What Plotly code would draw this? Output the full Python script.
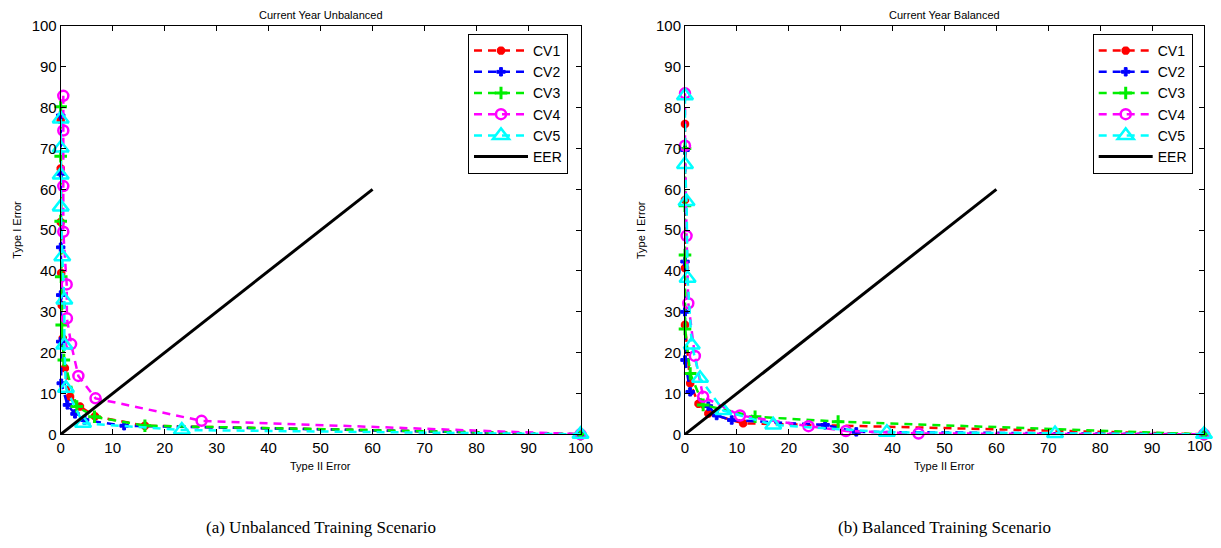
import plotly.graph_objects as go

# ---------------- data ----------------
series_names = ["CV1", "CV2", "CV3", "CV4", "CV5"]

# (a) Unbalanced
unb_cv1_x = [0, 0, 0, 0.1, 0.2, 0.4, 0.8, 1.8, 3.7, 6.6, 16.2, 100]
unb_cv1_y = [77, 65.1, 52, 39.5, 31.6, 23.5, 16.2, 9.2, 6.8, 4.4, 2.1, 0]
unb_cv2_x = [0, 0, 0, 0, 0, 0.1, 1.3, 2.75, 4.6, 12.2, 100]
unb_cv2_y = [78.1, 63.8, 45.8, 34.1, 22.7, 12.5, 7.2, 5.0, 3.5, 2.1, 0]
unb_cv3_x = [0, 0, 0, 0.1, 0.2, 0.6, 3.1, 6.5, 16.2, 100]
unb_cv3_y = [80.2, 68.1, 52.2, 38.6, 26.8, 18.2, 6.8, 4.3, 2.1, 0]
unb_cv4_x = [0.5, 0.5, 0.5, 0.5, 1.15, 1.2, 2.0, 3.4, 6.7, 27.1, 100]
unb_cv4_y = [82.9, 74.4, 60.8, 49.6, 36.7, 28.4, 22.1, 14.3, 8.8, 3.3, 0]
unb_cv5_x = [0, 0, 0, 0, 0.3, 0.7, 0.7, 1.0, 4.3, 23.3, 100]
unb_cv5_y = [77.2, 70.1, 63.5, 55.7, 43.5, 32.9, 21.9, 11.3, 2.7, 1.05, 0]

# (b) Balanced
bal_cv1_x = [0, 0, 0, 0, 1, 2.6, 4.5, 11.2, 100]
bal_cv1_y = [76, 57.4, 40.7, 26.8, 12.5, 7.5, 5.1, 2.7, 0]
bal_cv2_x = [0, 0, 0, 0, 1, 4.5, 6.1, 9, 27, 33, 100]
bal_cv2_y = [69.6, 42.3, 30, 18.2, 10.4, 6.9, 4.6, 3.5, 2.3, 0.6, 0]
bal_cv3_x = [0, 0, 0, 0, 1, 3.5, 13.5, 29.5, 100]
bal_cv3_y = [70, 56, 43.9, 25.8, 14.9, 7.2, 4.3, 3.1, 0]
bal_cv4_x = [0, 0, 0.3, 0.64, 1.9, 3.5, 10.6, 23.8, 31, 45, 100]
bal_cv4_y = [83.5, 70.7, 48.6, 32.1, 19.2, 9.2, 4.6, 2.0, 0.8, 0.2, 0]
bal_cv5_x = [0, 0, 0.3, 0.5, 1.3, 2.9, 7.4, 17, 38.9, 71.3, 100]
bal_cv5_y = [82.9, 66.1, 57, 38.2, 21.9, 13.7, 5.8, 2.3, 0.5, 0.2, 0]

eer_x = [0, 60]
eer_y = [0, 60]

axis_ticks = [0, 10, 20, 30, 40, 50, 60, 70, 80, 90, 100]
axis_tick_labels = [str(t) for t in axis_ticks]

panel_titles = ["Current Year Unbalanced", "Current Year Balanced"]
captions = ["(a) Unbalanced Training Scenario", "(b) Balanced Training Scenario"]
x_label = "Type II Error"
y_label = "Type I Error"

# ---------------- styles ----------------
colors = ["#ff0000", "#0000ff", "#00ee00", "#ff00ff", "#00ffff"]
symbols = ["asterisk-open", "cross", "cross-thin-open", "circle-open", "triangle-up-open"]
msizes = [7, 7, 9, 10, 14]
mlines = [3, 1, 3, 2.5, 2.5]

# page has an 8px body margin: figure is sized/positioned to compensate
OFF = 8
W, H = 1221 - 2 * OFF, 548 - 2 * OFF
fig = go.Figure()

panels = [
    ([unb_cv1_x, unb_cv2_x, unb_cv3_x, unb_cv4_x, unb_cv5_x],
     [unb_cv1_y, unb_cv2_y, unb_cv3_y, unb_cv4_y, unb_cv5_y]),
    ([bal_cv1_x, bal_cv2_x, bal_cv3_x, bal_cv4_x, bal_cv5_x],
     [bal_cv1_y, bal_cv2_y, bal_cv3_y, bal_cv4_y, bal_cv5_y]),
]


def fx(px):
    return (px - OFF) / W


def fy(py):
    return 1 - (py - OFF) / H


x_px = [(60.7, 580.5), (685, 1204)]
y_px = (26, 434.3)
legend_names = ["legend", "legend2"]

for p, (xs, ys) in enumerate(panels):
    xa = "x" if p == 0 else "x2"
    ya = "y" if p == 0 else "y2"
    for i in range(5):
        fig.add_trace(go.Scatter(
            x=xs[i], y=ys[i], name=series_names[i], mode="lines+markers",
            xaxis=xa, yaxis=ya, legend=legend_names[p], cliponaxis=False,
            line=dict(color=colors[i], width=2.5, dash="8px,6px"),
            marker=dict(symbol=symbols[i], size=msizes[i], color=colors[i],
                        line=dict(color=colors[i], width=mlines[i])),
        ))
    fig.add_trace(go.Scatter(
        x=eer_x, y=eer_y, name="EER", mode="lines", xaxis=xa, yaxis=ya,
        legend=legend_names[p], line=dict(color="black", width=3),
    ))

tick_font = dict(family="Liberation Sans, Arial", size=15, color="black")
axis_common = dict(
    range=[0, 100], tickvals=axis_ticks, ticks="inside", ticklen=5,
    tickcolor="black", showline=True, linecolor="black", linewidth=1,
    mirror="ticks", showgrid=False, zeroline=False, automargin=False,
    tickfont=tick_font,
)

# last x tick label of the right panel sits at the page edge: drawn as a
# right-aligned annotation so it is not clipped
x2_ticktext = axis_tick_labels[:-1] + [""]

y_dom = [fy(y_px[1]), fy(y_px[0])]
fig.update_layout(
    width=W, height=H, autosize=False,
    margin=dict(l=0, r=0, t=0, b=0, pad=0, autoexpand=False),
    plot_bgcolor="white", paper_bgcolor="white",
    xaxis=dict(domain=[fx(x_px[0][0]), fx(x_px[0][1])], anchor="y",
               ticktext=axis_tick_labels, **axis_common),
    yaxis=dict(domain=y_dom, anchor="x", ticktext=axis_tick_labels, **axis_common),
    xaxis2=dict(domain=[fx(x_px[1][0]), fx(x_px[1][1])], anchor="y2",
                ticktext=x2_ticktext, **axis_common),
    yaxis2=dict(domain=y_dom, anchor="x2", ticktext=axis_tick_labels, **axis_common),
    font=dict(family="Liberation Sans, Arial", color="black"),
)

leg_common = dict(
    bgcolor="white", bordercolor="black", borderwidth=1,
    font=dict(family="Liberation Sans, Arial", size=14, color="black"),
    xanchor="right", yanchor="top", y=fy(34), tracegroupgap=0,
    itemwidth=54,
)
fig.update_layout(
    legend=dict(x=fx(568), **leg_common),
    legend2=dict(x=fx(1192.7), **leg_common),
)

fig.add_annotation(text=axis_tick_labels[-1], x=1.0, y=axis_ticks[0], xref="paper", yref="y2",
                   xanchor="right", yanchor="top", yshift=-2, showarrow=False,
                   font=tick_font, borderpad=0)

for p in range(2):
    cx = fx((x_px[p][0] + x_px[p][1]) / 2)
    fig.add_annotation(text=panel_titles[p], x=cx, y=1.0, xref="paper", yref="paper",
                       showarrow=False, font=dict(size=11, family="Liberation Sans, Arial"),
                       xanchor="center", yanchor="top", borderpad=0)
    fig.add_annotation(text=x_label, x=cx, y=fy(466), xref="paper", yref="paper",
                       showarrow=False, font=dict(size=11, family="Liberation Sans, Arial"),
                       xanchor="center", yanchor="middle")
    fig.add_annotation(text=y_label, x=fx(x_px[p][0] - 44), y=fy(230),
                       xref="paper", yref="paper", textangle=-90,
                       showarrow=False, font=dict(size=11, family="Liberation Sans, Arial"),
                       xanchor="center", yanchor="middle")
    fig.add_annotation(text=captions[p], x=cx, y=fy(527), xref="paper", yref="paper",
                       showarrow=False, font=dict(size=17, family="Liberation Serif, Times New Roman"),
                       xanchor="center", yanchor="middle")

fig.write_html("out.html")
